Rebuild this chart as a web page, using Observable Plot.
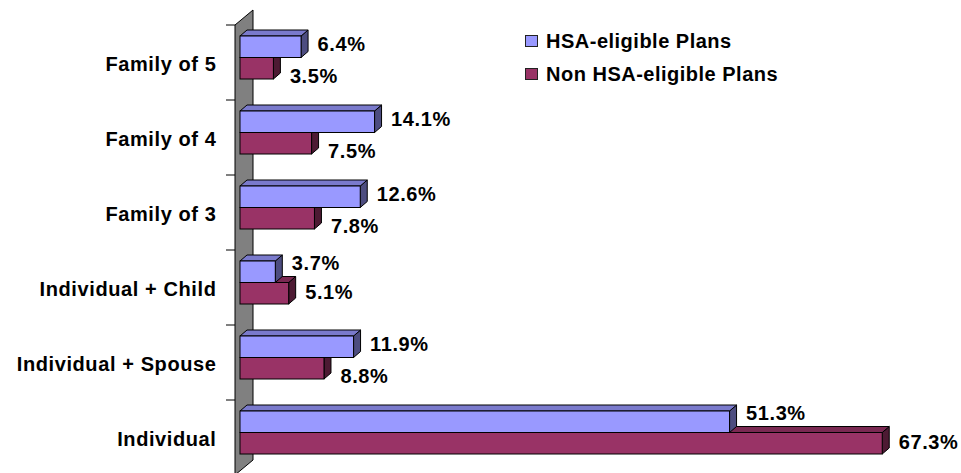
<!DOCTYPE html>
<html>
<head>
<meta charset="utf-8">
<script src="https://cdn.jsdelivr.net/npm/d3@7"></script>
<script src="https://cdn.jsdelivr.net/npm/@observablehq/plot@0.6"></script>
<style>
  html, body { margin: 0; padding: 0; background: #fff; }
  #wrap { position: relative; width: 961px; height: 473px; overflow: hidden; font-family: "Liberation Sans", Arial, sans-serif; }
  #legend { position: absolute; left: 525px; top: 30px; font-weight: bold; font-size: 20px; letter-spacing: 0.5px; color: #000; }
  .row { display: flex; align-items: center; height: 22px; margin-bottom: 11px; white-space: nowrap; }
  .sw { width: 11px; height: 10px; border: 1px solid #222; margin-right: 8px; }
</style>
</head>
<body>
<div id="wrap"></div>
<script>
// ---- data ----
const categories = ["Family of 5", "Family of 4", "Family of 3", "Individual + Child", "Individual + Spouse", "Individual"];
const series = ["HSA-eligible Plans", "Non HSA-eligible Plans"];
const hsaValues = [6.4, 14.1, 12.6, 3.7, 11.9, 51.3];
const nonHsaValues = [3.5, 7.5, 7.8, 5.1, 8.8, 67.3];

// ---- styling ----
const colors = {front: ["#9999ff", "#993366"], top: ["#7a7acc", "#7a2952"], side: ["#4d4d80", "#4d1a33"]};
const DX = 7, DY = 6;              // 3D depth in px
const W = 961, H = 473, mTop = 25, mBottom = -2;
const bw = (H - mTop - mBottom) / categories.length;
const hsaTop = 11, split = 32.5, nonBottom = 54;

// labels are lifted when the lower (Non HSA) bar is the longer one
const hsaData = categories.map((c, i) => ({c, v: hsaValues[i], lift: nonHsaValues[i] > hsaValues[i]}));
const nonData = categories.map((c, i) => ({c, v: nonHsaValues[i], lift: nonHsaValues[i] > hsaValues[i]}));
const fmt = v => v.toFixed(1) + "%";

function faces(vals, offTop, offBot, topFill, sideFill) {
  return (index, scales) => {
    const {x, y} = scales;
    const g = d3.create("svg:g").attr("stroke", "#000").attr("stroke-width", 1).attr("stroke-linejoin", "round");
    categories.forEach((c, i) => {
      const x0 = x(0), x1 = x(vals[i]);
      const yT = y(c) + offTop, yB = y(c) + offBot;
      g.append("path").attr("fill", sideFill)
        .attr("d", `M${x1},${yT}L${x1 + DX},${yT - DY}L${x1 + DX},${yB - DY}L${x1},${yB}Z`);
      g.append("path").attr("fill", topFill)
        .attr("d", `M${x0},${yT}L${x0 + DX},${yT - DY}L${x1 + DX},${yT - DY}L${x1},${yT}Z`);
    });
    return g.node();
  };
}

function wall(index, scales) {
  const {x, y} = scales;
  const x0 = x(0);
  const yTop = y(categories[0]);
  const yBot = y(categories[categories.length - 1]) + y.bandwidth();
  const g = d3.create("svg:g");
  g.append("path").attr("fill", "#808080").attr("stroke", "#000").attr("stroke-width", 1)
    .attr("d", `M${x0 - 5},${yTop}L${x0 + 13},${yTop - 15}L${x0 + 13},${yBot - 15}L${x0 - 5},${yBot}Z`);
  const bounds = categories.map(c => y(c)).concat([yBot]);
  g.selectAll("line").data(bounds).join("line")
    .attr("x1", x0 - 14).attr("x2", x0 - 5).attr("y1", d => d).attr("y2", d => d)
    .attr("stroke", "#000").attr("stroke-width", 1);
  return g.node();
}

const labelOpts = {x: "v", y: "c", text: d => fmt(d.v), textAnchor: "start", dx: 16, fontSize: 20, fontWeight: "bold", fill: "#000"};

const chart = Plot.plot({
  width: W,
  height: H,
  marginLeft: 240,
  marginRight: 53,
  marginTop: mTop,
  marginBottom: mBottom,
  style: {fontFamily: "'Liberation Sans', Arial, sans-serif", fontSize: "20px", fontWeight: "bold", letterSpacing: "0.6px", color: "#000", background: "#fff"},
  x: {domain: [0, 70], axis: null},
  y: {domain: categories, padding: 0, axis: null},
  marks: [
    wall,
    Plot.text(categories, {y: d => d, text: d => d, frameAnchor: "left", textAnchor: "end", dx: -24, dy: 2, fontSize: 20, fontWeight: "bold", fill: "#000"}),
    faces(nonHsaValues, split, nonBottom, colors.top[1], colors.side[1]),
    Plot.barX(nonData, {x: "v", y: "c", fill: colors.front[1], stroke: "#000", strokeWidth: 1, insetTop: split, insetBottom: bw - nonBottom}),
    faces(hsaValues, hsaTop, split, colors.top[0], colors.side[0]),
    Plot.barX(hsaData, {x: "v", y: "c", fill: colors.front[0], stroke: "#000", strokeWidth: 1, insetTop: hsaTop, insetBottom: bw - split}),
    Plot.text(hsaData, {...labelOpts, filter: d => !d.lift, dy: -18.7}),
    Plot.text(hsaData, {...labelOpts, filter: d => d.lift, dy: -24.5}),
    Plot.text(nonData, {...labelOpts, filter: d => !d.lift, dy: 13.5}),
    Plot.text(nonData, {...labelOpts, filter: d => d.lift, dy: 5})
  ]
});

const wrap = document.getElementById("wrap");
wrap.appendChild(chart);

const legend = document.createElement("div");
legend.id = "legend";
series.forEach((s, i) => {
  const row = document.createElement("div");
  row.className = "row";
  const sw = document.createElement("div");
  sw.className = "sw";
  sw.style.background = colors.front[i];
  const t = document.createElement("span");
  t.textContent = s;
  row.appendChild(sw);
  row.appendChild(t);
  legend.appendChild(row);
});
wrap.appendChild(legend);
</script>
</body>
</html>
